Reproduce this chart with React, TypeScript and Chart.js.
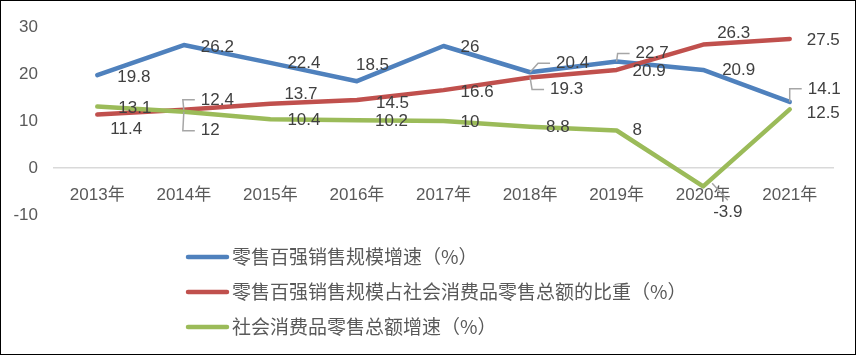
import { useEffect, useRef } from 'react';
import { Chart, registerables } from 'chart.js';

Chart.register(...registerables);

const categories = ['2013年', '2014年', '2015年', '2016年', '2017年', '2018年', '2019年', '2020年', '2021年'];
const seriesNames = [
  '零售百强销售规模增速（%）',
  '零售百强销售规模占社会消费品零售总额的比重（%）',
  '社会消费品零售总额增速（%）',
];
const top100Growth = [19.8, 26.2, 22.4, 18.5, 26, 20.4, 22.7, 20.9, 14.1];
const top100Share = [11.4, 12.4, 13.7, 14.5, 16.6, 19.3, 20.9, 26.3, 27.5];
const retailGrowth = [13.1, 12, 10.4, 10.2, 10, 8.8, 8, -3.9, 12.5];
const yMin = -10;
const yMax = 30;
const yStep = 10;

// data label placement relative to the point: [dx, dy, leader line: '' | 'side' | 'top']
type Place = [number, number, string];
const top100GrowthLabels: Place[] = [
  [20, 2, ''], [17, 2, ''], [17, 0, ''], [-1, -16, ''], [17, 1, ''],
  [26, -9, 'side'], [19, -8, 'side'], [19, 0, ''], [18, -13, 'side'],
];
const top100ShareLabels: Place[] = [
  [13, 15, ''], [17, -10, 'side'], [14, -9, ''], [19, 3, ''], [17, 2, ''],
  [20, 12, 'side'], [16, 1, ''], [14, -11, ''], [17, 1, ''],
];
const retailGrowthLabels: Place[] = [
  [21, 2, ''], [17, 19, 'side'], [17, 1, ''], [18, 1, ''], [17, 1, ''],
  [16, 1, ''], [16, 0, ''], [10, 26, 'top'], [17, 4, ''],
];

const colors = ['#4F81BD', '#C0504D', '#9BBB59'];
const NUM_FONT = '"Liberation Sans", "Noto Sans CJK SC", sans-serif';
const CJK_FONT = '"Noto Sans CJK SC", sans-serif';

const labelPlugin = {
  id: 'pointLabels',
  afterDatasetsDraw(chart: any) {
    const ctx = chart.ctx;
    ctx.save();
    ctx.font = `17px ${NUM_FONT}`;
    ctx.textAlign = 'left';
    ctx.textBaseline = 'middle';
    chart.data.datasets.forEach((ds: any, i: number) => {
      const meta = chart.getDatasetMeta(i);
      meta.data.forEach((el: any, j: number) => {
        const [dx, dy, leader] = ds.labelPlacement[j];
        const x = el.x + dx;
        const y = el.y + dy;
        const text = String(ds.data[j]);
        ctx.strokeStyle = '#a6a6a6';
        ctx.lineWidth = 1.5;
        if (leader === 'side') {
          ctx.beginPath();
          ctx.moveTo(el.x, el.y);
          ctx.lineTo(x - 18, y);
          ctx.lineTo(x - 6, y);
          ctx.stroke();
        } else if (leader === 'top') {
          const w = ctx.measureText(text).width;
          ctx.beginPath();
          ctx.moveTo(el.x + 9, el.y - 3);
          ctx.lineTo(x + w / 2, y - 12);
          ctx.stroke();
        }
        ctx.fillStyle = '#404040';
        ctx.fillText(text, x, y);
      });
    });
    ctx.restore();
  },
};

const legendPlugin = {
  id: 'leftLegend',
  afterDraw(chart: any) {
    const ctx = chart.ctx;
    const top = chart.chartArea.bottom + 42;
    ctx.save();
    ctx.font = `19px ${CJK_FONT}`;
    ctx.textAlign = 'left';
    ctx.textBaseline = 'middle';
    chart.data.datasets.forEach((ds: any, i: number) => {
      const y = top + i * 35;
      ctx.strokeStyle = ds.borderColor;
      ctx.lineWidth = 4.5;
      ctx.lineCap = 'round';
      ctx.beginPath();
      ctx.moveTo(187, y);
      ctx.lineTo(226, y);
      ctx.stroke();
      ctx.fillStyle = '#595959';
      ctx.fillText(ds.label, 231, y);
    });
    ctx.restore();
  },
};

export default function App() {
  const ref = useRef<HTMLCanvasElement>(null);
  useEffect(() => {
    document.body.style.margin = '0';
    const mk = (i: number, data: number[], place: any, order: number) => ({
      label: seriesNames[i],
      data,
      labelPlacement: place,
      borderColor: colors[i],
      backgroundColor: colors[i],
      borderWidth: 4.5,
      borderCapStyle: 'round',
      borderJoinStyle: 'round',
      pointRadius: 0,
      tension: 0,
      fill: false,
      order,
    });
    const chart = new Chart(ref.current!, {
      type: 'line',
      data: {
        labels: categories,
        datasets: [
          mk(0, top100Growth, top100GrowthLabels, 3),
          mk(1, top100Share, top100ShareLabels, 2),
          mk(2, retailGrowth, retailGrowthLabels, 1),
        ] as any,
      },
      options: {
        animation: false,
        responsive: true,
        maintainAspectRatio: false,
        layout: { padding: { left: 0, right: 22, top: 22, bottom: 139 } },
        plugins: { legend: { display: false }, tooltip: { enabled: false } },
        scales: {
          x: {
            type: 'category',
            position: { y: 0 } as any,
            offset: true,
            grid: { display: false },
            border: { display: true, color: '#d9d9d9', width: 1.5 },
            ticks: { color: '#595959', font: { size: 17, family: NUM_FONT }, padding: 9, maxRotation: 0, autoSkip: false },
          },
          y: {
            min: yMin,
            max: yMax,
            grid: { display: false, drawTicks: false },
            border: { display: false },
            ticks: { stepSize: yStep, color: '#595959', font: { size: 17, family: NUM_FONT }, padding: 16 },
            afterFit: (s: any) => { s.width = 53; },
          },
        },
      },
      plugins: [labelPlugin, legendPlugin],
    });
    return () => chart.destroy();
  }, []);
  return (
    <div style={{ position: 'absolute', left: 0, top: 0, width: 856, height: 355, boxSizing: 'border-box', border: '1px solid #000', background: '#fff' }}>
      <div style={{ position: 'relative', width: 854, height: 353 }}>
        <canvas ref={ref} />
      </div>
    </div>
  );
}
